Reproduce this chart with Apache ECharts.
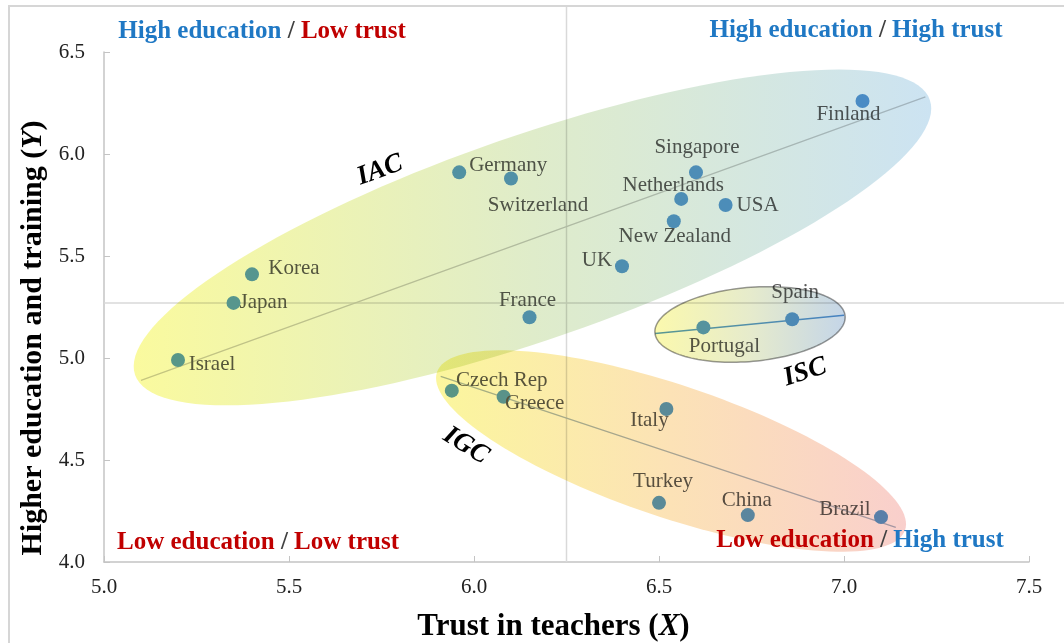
<!DOCTYPE html>
<html>
<head>
<meta charset="utf-8">
<script src="https://cdn.jsdelivr.net/npm/echarts@6/dist/echarts.min.js"></script>
<style>
html, body { margin: 0; padding: 0; background: #fff; }
#chart { width: 1064px; height: 643px; }
</style>
</head>
<body>
<div id="chart"></div>
<script>
// country data
var countries = ['Finland', 'Singapore', 'Netherlands', 'USA', 'New Zealand', 'UK', 'Germany', 'Switzerland', 'France', 'Korea',
	'Japan', 'Israel', 'Spain', 'Portugal', 'Czech Rep', 'Greece', 'Italy', 'Turkey', 'China', 'Brazil'];
var trustX = [7.05, 6.60, 6.56, 6.68, 6.54, 6.40, 5.96, 6.10, 6.15, 5.40,
	5.35, 5.20, 6.86, 6.62, 5.94, 6.08, 6.52, 6.50, 6.74, 7.10];
var eduY = [6.26, 5.91, 5.78, 5.75, 5.67, 5.45, 5.91, 5.88, 5.20, 5.41,
	5.27, 4.99, 5.19, 5.15, 4.84, 4.81, 4.75, 4.29, 4.23, 4.22];

// axis ticks
var xTicks = [5.0, 5.5, 6.0, 6.5, 7.0, 7.5];
var yTicks = [4.0, 4.5, 5.0, 5.5, 6.0, 6.5];

// quadrant split (means)
var meanX = 6.25;
var meanY = 5.27;

// cluster trend lines
var trendIAC = [[5.10, 4.89], [7.22, 6.28]];
var trendISC = [[6.49, 5.12], [7.00, 5.21]];
var trendIGC = [[5.91, 4.91], [7.14, 4.17]];

// cluster names
var clusterNames = ['IAC', 'ISC', 'IGC'];
var clusterAt = [[5.746, 5.92], [6.895, 4.93], [5.978, 4.57]];

// ---- layout / style ----
var FONT = '"Liberation Serif", "Times New Roman", serif';
var clusterRot = [20, 18, -32];

// ellipses: major-axis tips in data units, half minor axis in px
var ellipseShapes = [
	{ from: [5.084, 4.917], to: [7.232, 6.265], half: 102,
		stops: ['#fafa9e', '#dfecca', '#cce3f2'] },
	{ from: [5.90, 4.931], to: [7.165, 4.157], half: 66,
		stops: ['#fbf69d', '#fce2b6', '#f9cfcc'] },
	{ from: [6.489, 5.123], to: [7.003, 5.206], half: 37,
		stops: ['#fbf9ad', '#e6ebcc', '#c4d5e8'], stroke: '#9a9a9a' }
];

// label offset from dot centre [dx, dy]
var labelOffset = {
	'Finland': [-14, 14], 'Singapore': [1, -25], 'Netherlands': [-8, -13], 'USA': [32, 0],
	'New Zealand': [1, 15], 'UK': [-25, -6], 'Germany': [49, -7], 'Switzerland': [27, 27],
	'France': [-2, -17], 'Korea': [42, -6], 'Japan': [30, 0], 'Israel': [34, 4],
	'Spain': [3, -27], 'Portugal': [21, 19], 'Czech Rep': [50, -10], 'Greece': [31, 7],
	'Italy': [-17, 11], 'Turkey': [4, -21], 'China': [-1, -15], 'Brazil': [-36, -8]
};

function ellipsePoints(p1, p2, half) {
	var cx = (p1[0] + p2[0]) / 2, cy = (p1[1] + p2[1]) / 2;
	var dx = p2[0] - p1[0], dy = p2[1] - p1[1];
	var a = Math.sqrt(dx * dx + dy * dy) / 2;
	var ang = Math.atan2(dy, dx);
	var pts = [];
	for (var i = 0; i < 144; i++) {
		var t = i / 144 * Math.PI * 2;
		var ex = a * Math.cos(t), ey = half * Math.sin(t);
		pts.push([cx + ex * Math.cos(ang) - ey * Math.sin(ang), cy + ex * Math.sin(ang) + ey * Math.cos(ang)]);
	}
	return pts;
}

var scatterData = countries.map(function(c, i) {
	var off = labelOffset[c] || [0, -16];
	return {
		name: c,
		value: [trustX[i], eduY[i]],
		label: { offset: off }
	};
});

function cornerText(x, y, text) {
	return {
		type: 'text', x: x, y: y, z: 100,
		style: {
			text: text,
			align: 'center', verticalAlign: 'middle',
			font: 'bold 25px ' + FONT,
			rich: { b: { fill: '#1f78c4' }, s: { fill: '#404040' }, r: { fill: '#c00000' } }
		}
	};
}

var myChart = echarts.init(document.getElementById('chart'));

var option = {
	backgroundColor: '#fff',
	animation: false,
	grid: { left: 104, right: 35, top: 52, bottom: 81, containLabel: false, outerBoundsMode: 'none' },
	xAxis: {
		type: 'value',
		min: xTicks[0],
		max: xTicks[xTicks.length - 1],
		interval: xTicks[1] - xTicks[0],
		splitLine: { show: false },
		axisLine: { lineStyle: { color: '#c4c4c4', width: 1.5 } },
		axisTick: { show: true, inside: true, length: 6, lineStyle: { color: '#c4c4c4' } },
		axisLabel: {
			margin: 15, color: '#222', fontFamily: FONT, fontSize: 21,
			formatter: function(v) { return v.toFixed(1); }
		},
		name: 'Trust in teachers ({i|X})',
		nameLocation: 'middle',
		nameGap: 49,
		nameTextStyle: {
			fontFamily: FONT, fontSize: 31, fontWeight: 'bold', color: '#000',
			padding: [0, 26, 0, 0],
			rich: { i: { fontFamily: FONT, fontSize: 31, fontWeight: 'bold', fontStyle: 'italic', color: '#000' } }
		}
	},
	yAxis: {
		type: 'value',
		min: yTicks[0],
		max: yTicks[yTicks.length - 1],
		interval: yTicks[1] - yTicks[0],
		splitLine: { show: false },
		axisLine: { show: true, lineStyle: { color: '#c4c4c4', width: 1.5 } },
		axisTick: { show: true, inside: true, length: 6, lineStyle: { color: '#c4c4c4' } },
		axisLabel: {
			margin: 19, color: '#222', fontFamily: FONT, fontSize: 21,
			formatter: function(v) { return v.toFixed(1); }
		},
		name: 'Higher education and training ({i|Y})',
		nameLocation: 'middle',
		nameGap: 50,
		nameTextStyle: {
			fontFamily: FONT, fontSize: 30, fontWeight: 'bold', color: '#000',
			padding: [0, 62, 0, 0],
			rich: { i: { fontFamily: FONT, fontSize: 30, fontWeight: 'bold', fontStyle: 'italic', color: '#000' } }
		}
	},
	graphic: [
		{
			type: 'rect', z: -10, silent: true,
			shape: { x: 9, y: 6, width: 1200, height: 800 },
			style: { fill: null, stroke: '#d6d6d6', lineWidth: 2 }
		},
		cornerText(262, 32, '{b|High education} {s|/} {r|Low trust}'),
		cornerText(856, 31, '{b|High education} {s|/} {b|High trust}'),
		cornerText(258, 543, '{r|Low education} {s|/} {r|Low trust}'),
		cornerText(860, 541, '{r|Low education} {s|/} {b|High trust}')
	],
	series: [
		// quadrant lines
		{
			type: 'custom',
			z: 1,
			silent: true,
			data: [[meanX, meanY]],
			renderItem: function(params, api) {
				var p = api.coord([meanX, meanY]);
				var bottom = api.coord([meanX, yTicks[0]])[1];
				var left = api.coord([xTicks[0], meanY])[0];
				return {
					type: 'group',
					children: [
						{ type: 'line', shape: { x1: p[0], y1: 7, x2: p[0], y2: bottom },
							style: { stroke: '#d9d9d9', lineWidth: 1.5 } },
						{ type: 'line', shape: { x1: left, y1: p[1], x2: api.getWidth(), y2: p[1] },
							style: { stroke: '#d9d9d9', lineWidth: 1.5 } }
					]
				};
			}
		},
		// trend lines
		{
			type: 'line', z: 2, silent: true, symbol: 'none',
			data: trendIAC,
			lineStyle: { color: '#cacaca', width: 1.3 }
		},
		{
			type: 'line', z: 2, silent: true, symbol: 'none',
			data: trendISC,
			lineStyle: { color: '#5b9bd5', width: 1.5 }
		},
		{
			type: 'line', z: 2, silent: true, symbol: 'none',
			data: trendIGC,
			lineStyle: { color: '#a9b8cc', width: 1.3 }
		},
		// countries
		{
			type: 'scatter',
			z: 3,
			symbolSize: 14,
			itemStyle: { color: '#5b9bd5', opacity: 1 },
			label: {
				show: true,
				position: 'inside',
				formatter: '{b}',
				color: '#595959',
				fontFamily: FONT,
				fontSize: 21,
				align: 'center',
				verticalAlign: 'middle'
			},
			emphasis: { disabled: true },
			data: scatterData
		},
		// cluster names
		{
			type: 'custom',
			z: 20,
			silent: true,
			data: clusterAt,
			renderItem: function(params, api) {
				var p = api.coord(clusterAt[params.dataIndex]);
				return {
					type: 'text',
					x: p[0], y: p[1],
					rotation: clusterRot[params.dataIndex] * Math.PI / 180,
					style: {
						text: clusterNames[params.dataIndex],
						font: 'italic bold 27px ' + FONT,
						fill: '#000',
						align: 'center',
						verticalAlign: 'middle'
					}
				};
			}
		}
	]
};

myChart.setOption(option);

// cluster ellipses, multiplied over the marks below them
var zr = myChart.getZr();
ellipseShapes.forEach(function(e) {
	var p1 = myChart.convertToPixel({ gridIndex: 0 }, e.from);
	var p2 = myChart.convertToPixel({ gridIndex: 0 }, e.to);
	zr.add(new echarts.graphic.Polygon({
		z: 10,
		silent: true,
		shape: { points: ellipsePoints(p1, p2, e.half) },
		style: {
			fill: new echarts.graphic.LinearGradient(0, 0, 1, 0, [
				{ offset: 0, color: e.stops[0] },
				{ offset: 0.5, color: e.stops[1] },
				{ offset: 1, color: e.stops[2] }
			]),
			stroke: e.stroke || null,
			lineWidth: e.stroke ? 1.5 : 0,
			blend: 'multiply'
		}
	}));
});
</script>
</body>
</html>
